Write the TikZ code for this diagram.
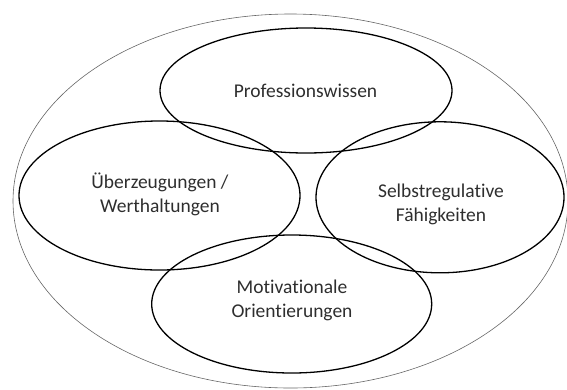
\documentclass[tikz,border=0pt]{standalone}
\usepackage{fontspec}
\setmainfont{Carlito}[Ligatures=NoCommon]
\usetikzlibrary{shapes.geometric}
\definecolor{labelgray}{HTML}{2E2E2E}
\tikzset{
  area/.style={ellipse, draw=black, line width=1.3pt, inner sep=0pt},
  areatext/.style={align=center, text=labelgray, inner sep=0pt,
    font=\fontsize{19.5}{24}\selectfont},
  frame/.style={ellipse, draw=black!60, line width=0.6pt, inner sep=0pt}
}
\begin{document}
\begin{tikzpicture}[x=1pt,y=-1pt]
  \useasboundingbox (0,0) rectangle (567,389);
  % enclosing ellipse
  \node[frame, minimum width=555pt, minimum height=374pt] (all) at (290.5,201) {};
  % the four overlapping areas
  \node[area, minimum width=292pt, minimum height=125pt] (prof) at (306,90.5) {};
  \node[area, minimum width=281pt, minimum height=149pt] (belief) at (159.5,195.5) {};
  \node[area, minimum width=248pt, minimum height=151pt] (selfreg) at (440,197.3) {};
  \node[area, minimum width=280pt, minimum height=138pt] (motiv) at (291.7,304) {};
  % their labels
  \node[areatext] (prof-t) at (305.5,91) {Professionswissen};
  \node[areatext] (belief-t) at (160,194) {Überzeugungen /\\Werthaltungen};
  \node[areatext] (selfreg-t) at (441,204.5) {Selbstregulative\\Fähigkeiten};
  \node[areatext] (motiv-t) at (292,300) {Motivationale\\Orientierungen};
\end{tikzpicture}
\end{document}
